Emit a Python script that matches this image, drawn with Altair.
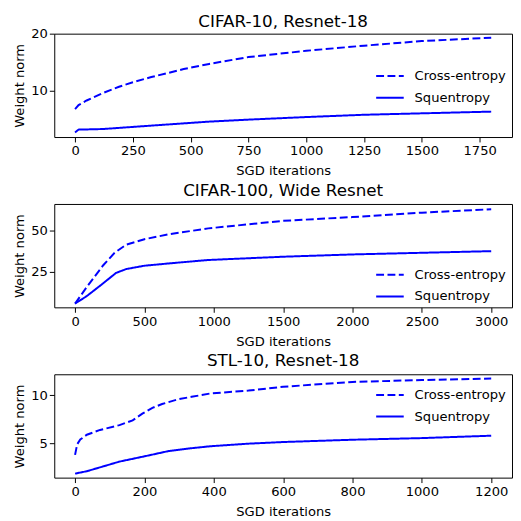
import altair as alt
import pandas as pd

titles = ["CIFAR-10, Resnet-18", "CIFAR-100, Wide Resnet", "STL-10, Resnet-18"]
series_names = ["Cross-entropy", "Squentropy"]

# Panel 1: CIFAR-10, Resnet-18
c10_ce_x = [0, 15, 50, 120, 190, 250, 330, 470, 580, 750, 1000, 1250, 1500, 1800]
c10_ce_y = [6.8, 7.5, 8.3, 9.6, 10.7, 11.5, 12.4, 13.8, 14.7, 15.9, 17.0, 17.9, 18.7, 19.3]
c10_sq_x = [0, 15, 120, 330, 580, 750, 1000, 1250, 1500, 1800]
c10_sq_y = [2.7, 3.2, 3.3, 3.9, 4.6, 4.95, 5.4, 5.8, 6.05, 6.35]

# Panel 2: CIFAR-100, Wide Resnet
c100_ce_x = [0, 85, 200, 285, 370, 500, 675, 960, 1500, 2000, 2500, 3000]
c100_ce_y = [5.5, 15.7, 28.6, 36.5, 41.5, 44.8, 47.8, 51.4, 56.0, 58.3, 61.0, 63.1]
c100_sq_x = [0, 85, 200, 295, 370, 500, 675, 960, 1500, 2000, 2500, 3000]
c100_sq_y = [5.5, 10.1, 17.7, 24.2, 26.6, 28.6, 30.0, 32.1, 34.1, 35.5, 36.5, 37.5]

# Panel 3: STL-10, Resnet-18
stl_ce_x = [0, 6, 15, 34, 72, 128, 166, 194, 223, 251, 298, 336, 390, 500, 600, 800, 1000, 1200]
stl_ce_y = [3.8, 4.9, 5.4, 5.9, 6.4, 6.9, 7.4, 8.1, 8.7, 9.1, 9.6, 9.85, 10.2, 10.5, 10.9, 11.4, 11.6, 11.75]
stl_sq_x = [0, 34, 81, 128, 200, 270, 336, 390, 500, 600, 800, 1000, 1200]
stl_sq_y = [1.85, 2.1, 2.6, 3.1, 3.65, 4.2, 4.5, 4.7, 4.97, 5.14, 5.38, 5.55, 5.8]

x_ticks = [[0, 250, 500, 750, 1000, 1250, 1500, 1750],
           [0, 500, 1000, 1500, 2000, 2500, 3000],
           [0, 200, 400, 600, 800, 1000, 1200]]
y_ticks = [[10, 20], [25, 50], [5, 10]]

FONT = "DejaVu Sans"
BLUE = "#0000ff"


def panel(title, ce_x, ce_y, sq_x, sq_y, xdom, ydom, xt, yt, legend_y, title_offset):
    df = pd.DataFrame({
        "iter": ce_x + sq_x,
        "norm": ce_y + sq_y,
        "loss": [series_names[0]] * len(ce_x) + [series_names[1]] * len(sq_x),
    })
    return alt.Chart(df).mark_line(color=BLUE, strokeWidth=2).encode(
        x=alt.X("iter:Q", scale=alt.Scale(domain=xdom, nice=False, zero=False),
                axis=alt.Axis(values=xt, format="d", title="SGD iterations",
                              labelOverlap=False, labelFlush=False)),
        y=alt.Y("norm:Q", scale=alt.Scale(domain=ydom, nice=False, zero=False),
                axis=alt.Axis(values=yt, format="d", title="Weight norm",
                              labelOverlap=False, labelFlush=False)),
        strokeDash=alt.StrokeDash(
            "loss:N",
            scale=alt.Scale(domain=series_names, range=[[8, 3.5], [1, 0]]),
            legend=alt.Legend(title=None, orient="none", legendX=326, legendY=legend_y),
        ),
    ).properties(width=465, height=105,
                 title=alt.TitleParams(title, frame="group", offset=title_offset))


p1 = panel(titles[0], c10_ce_x, c10_ce_y, c10_sq_x, c10_sq_y, [-90, 1890], [1.9, 20.0],
           x_ticks[0], y_ticks[0], 28, -4)
p2 = panel(titles[1], c100_ce_x, c100_ce_y, c100_sq_x, c100_sq_y, [-150, 3150], [3.2, 66.3],
           x_ticks[1], y_ticks[1], 57, 4)
p3 = panel(titles[2], stl_ce_x, stl_ce_y, stl_sq_x, stl_sq_y, [-60, 1260], [1.43, 12.2],
           x_ticks[2], y_ticks[2], 6, 4)

chart = alt.vconcat(p1, p2, p3, spacing=3).resolve_scale(
    strokeDash="independent"
).resolve_legend(strokeDash="independent").properties(
    padding={"left": 4, "top": 0, "right": 0, "bottom": 0}
).configure_view(stroke="black", strokeWidth=1).configure_axis(
    domain=False, grid=False, tickColor="black", tickSize=5, tickWidth=1,
    labelFont=FONT, titleFont=FONT, labelFontSize=13.3, titleFontSize=13.3,
    labelColor="black", titleColor="black", titleFontWeight="normal",
    labelPadding=2, titlePadding=4,
).configure_axisX(titlePadding=7).configure_title(
    font=FONT, fontSize=17, fontWeight="normal", color="black", anchor="middle",
    baseline="alphabetic"
).configure_legend(
    labelFont=FONT, labelFontSize=13.3, labelColor="black",
    symbolType="stroke", symbolStrokeWidth=2, symbolSize=784, symbolStrokeColor=BLUE,
    labelOffset=10, padding=0, rowPadding=-16,
)

chart.save("out.html", embed_options={"renderer": "svg", "actions": False})
